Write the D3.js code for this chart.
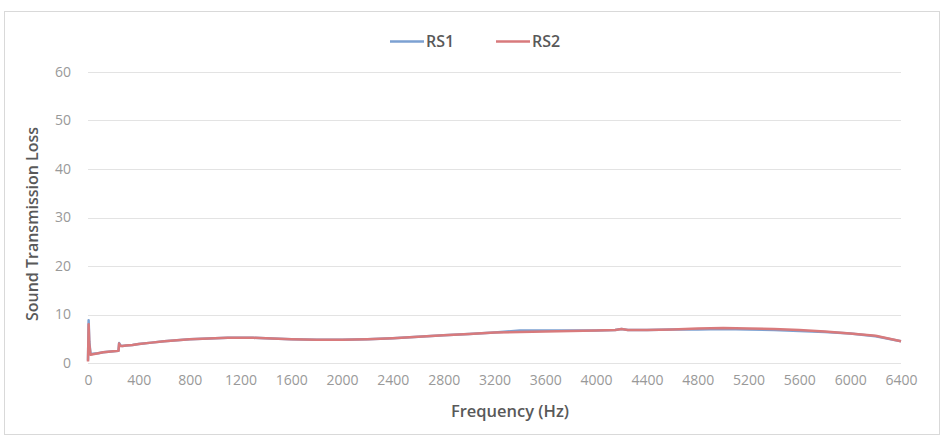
<!DOCTYPE html>
<html><head><meta charset="utf-8">
<script src="https://cdn.jsdelivr.net/npm/d3@7"></script>
<style>body{margin:0;background:#fff}svg{display:block}</style>
</head><body>
<svg id="c" width="945" height="438"></svg>
<script>
const freq = [0, 5, 10, 20, 40, 80, 120, 160, 200, 240, 245, 255, 270, 300, 350, 400, 500, 600, 700, 800, 900, 1000, 1100, 1200, 1300, 1400, 1500, 1600, 1800, 2000, 2200, 2400, 2600, 2800, 3000, 3200, 3400, 3600, 3800, 4000, 4150, 4200, 4250, 4400, 4600, 4800, 5000, 5200, 5400, 5600, 5800, 6000, 6200, 6400];
const rs1 = [0.5, 8.8, 4.5, 1.8, 1.9, 2.0, 2.2, 2.3, 2.4, 2.5, 4.1, 3.6, 3.5, 3.6, 3.7, 3.9, 4.2, 4.5, 4.7, 4.9, 5.0, 5.1, 5.2, 5.2, 5.2, 5.1, 5.0, 4.9, 4.8, 4.8, 4.9, 5.1, 5.4, 5.7, 6.0, 6.3, 6.7, 6.7, 6.7, 6.7, 6.8, 7.0, 6.8, 6.8, 6.9, 6.9, 7.0, 6.9, 6.8, 6.6, 6.4, 6.1, 5.5, 4.5];
const rs2 = [0.3, 8.0, 4.0, 1.7, 1.8, 2.0, 2.2, 2.3, 2.4, 2.5, 4.0, 3.5, 3.5, 3.6, 3.7, 3.9, 4.2, 4.5, 4.7, 4.9, 5.0, 5.1, 5.2, 5.2, 5.2, 5.1, 5.0, 4.9, 4.8, 4.8, 4.9, 5.1, 5.4, 5.7, 6.0, 6.3, 6.4, 6.5, 6.6, 6.7, 6.8, 7.0, 6.8, 6.8, 6.9, 7.1, 7.2, 7.1, 7.0, 6.8, 6.5, 6.1, 5.6, 4.5];
const xTicks = d3.range(0, 6401, 400);
const yTicks = [0, 10, 20, 30, 40, 50, 60];
const seriesNames = ["RS1", "RS2"];
const colors = ["#7ca1d2", "#d87a7c"];

const svg = d3.select("#c");
const font = "'Open Sans', sans-serif";
svg.append("rect").attr("x", 4.5).attr("y", 11.5).attr("width", 935).attr("height", 423)
  .attr("fill", "#fff").attr("stroke", "#d9d9d9");

const x = d3.scaleLinear().domain([0, 6400]).range([88, 901]);
const y = d3.scaleLinear().domain([0, 60]).range([363, 72]);

const g = svg.append("g");
g.selectAll("line.grid").data(yTicks).join("line")
  .attr("x1", x(0)).attr("x2", x(6400))
  .attr("y1", d => Math.round(y(d)) + 0.5).attr("y2", d => Math.round(y(d)) + 0.5)
  .attr("stroke", "#e3e3e3").attr("stroke-width", 1);

const yAxis = g.append("g").attr("transform", `translate(${x(0)},0)`)
  .call(d3.axisLeft(y).tickValues(yTicks).tickSize(0).tickPadding(17));
yAxis.select(".domain").remove();
yAxis.selectAll("text").attr("font-family", font).attr("font-size", 14).attr("fill", "#999");

const xAxis = g.append("g").attr("transform", `translate(0,${y(0)})`)
  .call(d3.axisBottom(x).tickValues(xTicks).tickSize(0).tickPadding(12).tickFormat(d3.format("d")));
xAxis.select(".domain").remove();
xAxis.selectAll("text").attr("font-family", font).attr("font-size", 14).attr("fill", "#999");

const line = d3.line().x((d, i) => x(freq[i])).y(d => y(d));
[rs1, rs2].forEach((s, k) => {
  g.append("path").datum(s).attr("d", line).attr("fill", "none")
    .attr("stroke", colors[k]).attr("stroke-width", 2.5).attr("stroke-linejoin", "round");
});

// legend
const legX = [390, 496];
seriesNames.forEach((n, k) => {
  svg.append("line").attr("x1", legX[k]).attr("x2", legX[k] + 34).attr("y1", 41.5).attr("y2", 41.5)
    .attr("stroke", colors[k]).attr("stroke-width", 2.5);
  svg.append("text").attr("x", legX[k] + 36).attr("y", 47).text(n)
    .attr("font-family", font).attr("font-size", 16).attr("font-weight", 600).attr("fill", "#595959");
});

svg.append("text").attr("x", 510).attr("y", 417).attr("text-anchor", "middle")
  .text("Frequency (Hz)").attr("font-family", font).attr("font-size", 16.5)
  .attr("font-weight", 600).attr("fill", "#595959");
svg.append("text").attr("transform", "translate(38,224) rotate(-90)").attr("text-anchor", "middle")
  .text("Sound Transmission Loss").attr("font-family", font).attr("font-size", 16)
  .attr("font-weight", 600).attr("fill", "#595959");
</script>
</body></html>
